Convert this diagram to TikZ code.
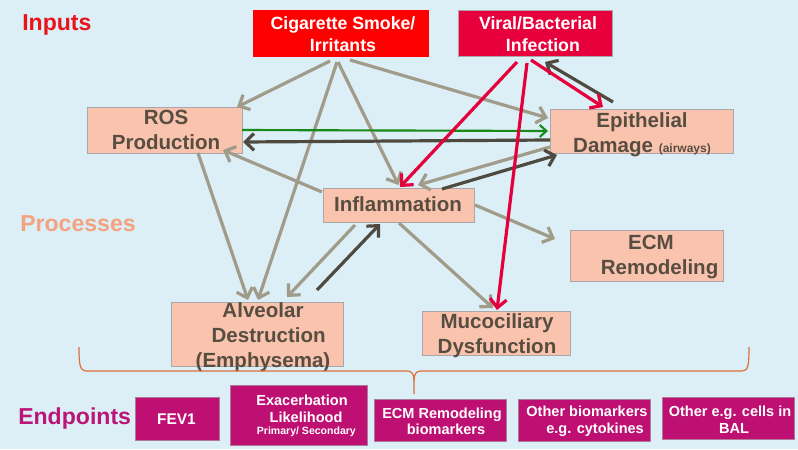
\documentclass[tikz,border=0pt]{standalone}
\usepackage{fontspec}
\setmainfont{Liberation Sans}
\usetikzlibrary{arrows.meta,calc}
\definecolor{bgc}{HTML}{DCEEF6}
\definecolor{tanc}{HTML}{A19B8A}
\definecolor{darkc}{HTML}{4F4A40}
\definecolor{greenc}{HTML}{178A17}
\definecolor{crimc}{HTML}{E5003C}
\definecolor{redbox}{HTML}{FF0000}
\definecolor{virbox}{HTML}{E8003D}
\definecolor{pfill}{HTML}{FAC3AE}
\definecolor{pborder}{HTML}{A8A8A8}
\definecolor{efill}{HTML}{BE0F72}
\definecolor{txtc}{HTML}{574E41}
\definecolor{inpc}{HTML}{E8141C}
\definecolor{proc}{HTML}{F4A27F}
\definecolor{endc}{HTML}{BA1577}
\definecolor{bracec}{HTML}{E0703A}
\begin{document}
\begin{tikzpicture}[x=0.75pt,y=-0.75pt,
  box/.style={inner sep=0pt, outer sep=0pt, line width=0.6pt},
  sz/.style 2 args={minimum width=0.75*#1pt, minimum height=0.75*#2pt},
  pbox/.style={box, draw=pborder, fill=pfill},
  ebox/.style={box, draw=pborder!70!efill, fill=efill},
  ptext/.style={inner sep=0pt, align=center, text=txtc, font=\fontsize{15.4}{18.8}\selectfont\bfseries},
  itext/.style={inner sep=0pt, align=center, text=white, font=\fontsize{13.3}{16.5}\selectfont\bfseries},
  etext/.style={inner sep=0pt, align=center, text=white, font=\fontsize{10.9}{12.4}\selectfont\bfseries},
  head/.style={inner sep=0pt, anchor=base west, font=\fontsize{17.3}{20}\selectfont\bfseries},
  arr/.style={line width=2.4pt, -{Straight Barb[length=6.5pt,width=12.5pt]}},
  tarr/.style={arr, draw=tanc},
  darr/.style={arr, draw=darkc},
  garr/.style={line width=1.6pt, draw=greenc, -{Straight Barb[length=5pt,width=9pt]}},
  rarr/.style={arr, draw=crimc},
  bracestyle/.style={draw=bracec, line width=0.9pt}
]
\useasboundingbox (0,0) rectangle (798,449);
\fill[bgc] (0,0) rectangle (798,449);

% headings
\node[head, text=inpc] (hin) at (22,31) {Inputs};
\node[head, text=proc] (hpr) at (20,231) {Processes};
\node[head, text=endc] (hen) at (18,424) {Endpoints};

% input boxes
\node[box, fill=redbox, sz={176}{47}] (cig) at (341,33.5) {};
\node[itext] (cigT) at (343,34) {Cigarette Smoke/\\Irritants};
\node[box, fill=virbox, draw=pborder, sz={154}{46}] (vir) at (535,33) {};
\node[itext] (virT) at (538,34) {Viral/Bacterial\\\ \ Infection};

% process boxes
\node[pbox, sz={155}{46}] (ros) at (164.5,130) {};
\node[pbox, sz={183}{44}] (epi) at (641.5,131) {};
\node[pbox, sz={151}{34}] (inf) at (398.5,205) {};
\node[pbox, sz={153}{51}] (ecm) at (646.5,255.5) {};
\node[pbox, sz={172}{64}] (alv) at (257,334) {};
\node[pbox, sz={148}{44}] (muc) at (496,333) {};

\node[ptext] (rosT) at (166,130) {ROS\\Production};
\node[ptext] (epiT) at (642,135) {Epithelial\\Damage {\fontsize{9}{10}\selectfont (airways)}};
\node[ptext] (infT) at (398,204.5) {Inflammation};
\node[ptext] (ecmT) at (651,257) {ECM\\\ \ \ Remodeling};
\node[ptext] (alvT) at (263,337) {Alveolar\\\ \ Destruction\\(Emphysema)};
\node[ptext] (mucT) at (497,335.5) {Mucociliary\\Dysfunction};

% brace
\draw[bracestyle] (79,347) .. controls (79,366) and (80,371) .. (87,371) -- (407,371)
  .. controls (412,371) and (414,374) .. (414,381) -- (414,394);
\draw[bracestyle] (414,381) .. controls (414,374) and (416,371) .. (421,371) -- (742,371)
  .. controls (748,371) and (749,366) .. (749,347);

% endpoint boxes
\node[ebox, sz={84}{43}] (fev) at (177,418.5) {};
\node[ebox, sz={137}{60}] (exa) at (298.5,415) {};
\node[ebox, sz={132}{42}] (ecmb) at (440,420) {};
\node[ebox, sz={132}{42}] (oth) at (584,420) {};
\node[ebox, sz={132}{42}] (bal) at (728,418) {};

\node[etext, font=\fontsize{11.6}{13}\selectfont\bfseries] (fevT) at (176.5,419) {FEV1};
\node[etext] (exaT) at (302,416) {Exacerbation\\\ \ Likelihood\\[-3pt]{\fontsize{7.9}{9}\selectfont\ \ \ Primary/ Secondary}};
\node[etext] (ecmbT) at (442,421.5) {ECM Remodeling\\\ \ biomarkers};
\node[etext] (othT) at (587,421.5) {Other biomarkers\\\ \ \ \ e.g. cytokines};
\node[etext] (balT) at (730,419.5) {Other e.g. cells in\\\ \ BAL};

% tan arrows
\draw[tarr] ($(cig.south)+(-11,4)$) -- ($(ros.north east)+(-5,0)$);
\draw[tarr] ($(cig.south)+(-4,5)$) -- ($(alv.north)+(1,-2)$);
\draw[tarr] ($(cig.south)+(-3,5)$) -- ($(inf.north)+(0,-3)$);
\draw[tarr] ($(cig.south)+(9,3)$) -- ($(epi.west)+(-2,-13)$);
\draw[tarr] ($(ros.south)+(33.5,0)$) -- ($(alv.north)+(-9,-2)$);
\draw[tarr] ($(inf.north west)+(-1,4)$) -- ($(ros.south east)+(-19,-3)$);
\draw[tarr] ($(epi.south west)+(0,-6)$) -- ($(inf.north)+(19.5,-3)$);
\draw[tarr] ($(inf.south)+(-43.5,3)$) -- ($(alv.north)+(30,-5)$);
\draw[tarr] ($(inf.east)+(1,0)$) -- ($(ecm.west)+(-15,-16.5)$);
\draw[tarr] ($(inf.south)+(0.5,1)$) -- ($(muc.north)+(-3,-3)$);

% dark arrows
\draw[darr] ($(inf.north)+(43.5,1)$) -- ($(epi.south west)+(7,2)$);
\draw[darr] ($(alv.north)+(60,-12)$) -- ($(inf.south)+(-18.5,2)$);
\draw[darr] ($(epi.west)+(0,9)$) -- ($(ros.east)+(1,12)$);
\draw[darr] ($(epi.north)+(-28.5,-7)$) -- ($(vir.south)+(10,6)$);

% green arrow
\draw[garr] (ros.east) -- ($(epi.west)+(-2,0)$);

% red arrows
\draw[rarr] ($(vir.south)+(-18,6)$) -- ($(inf.north)+(1.5,-1)$);
\draw[rarr] ($(vir.south)+(-8,7)$) -- ($(muc.north)+(1,-1)$);
\draw[rarr] ($(vir.south)+(-4,4)$) -- ($(epi.north)+(-38.5,-2)$);
\end{tikzpicture}
\end{document}
